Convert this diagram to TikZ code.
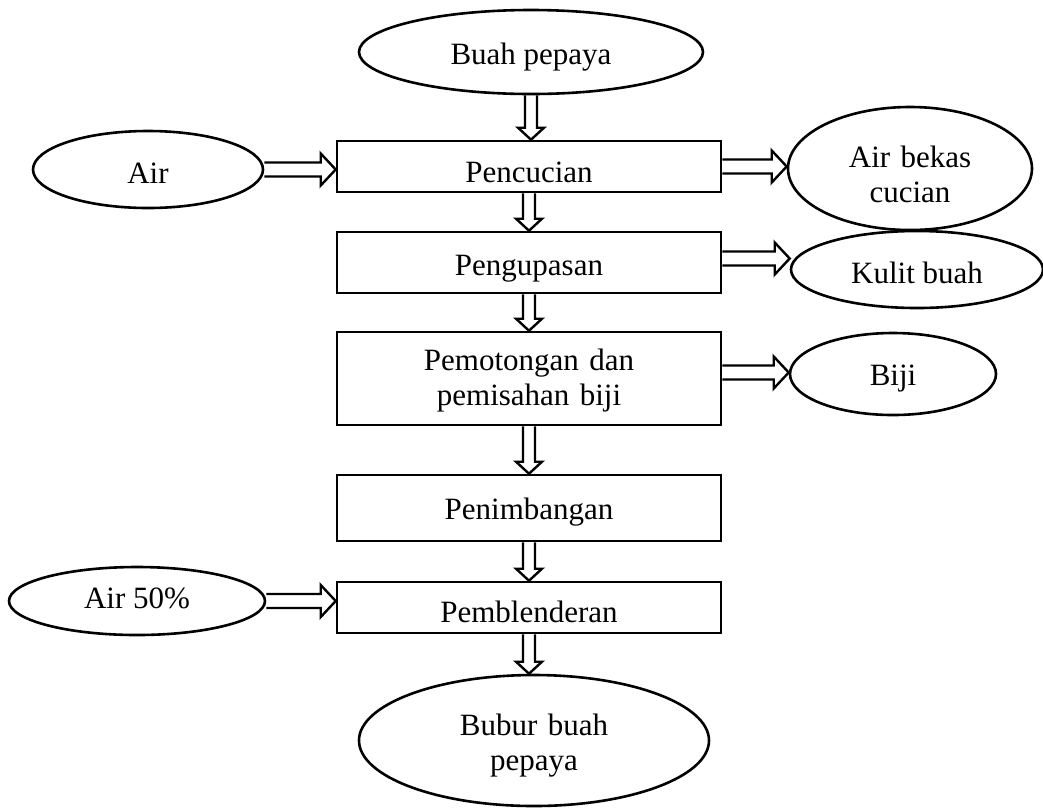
\documentclass[tikz,border=0pt]{standalone}
\usepackage{fontspec}
\setmainfont{Liberation Serif}
\usetikzlibrary{shapes.geometric,calc}
\tikzset{
  base/.style={draw=black, line width=2.6pt, font=\fontsize{31}{35}\selectfont},
  procbox/.style={base, rectangle, inner sep=0pt, text width=384pt, align=center, anchor=base},
  oval/.style={base, ellipse, inner sep=0pt, align=center},
  harr/.style={draw=black, line width=2.4pt, line join=miter, to path={let \p1=(\tikztostart), \p2=(\tikztotarget) in
     (\x1,\y1+7pt) -- (\x2-15pt,\y1+7pt) -- (\x2-15pt,\y1+16pt) -- (\x2,\y1) -- (\x2-15pt,\y1-16pt) -- (\x2-15pt,\y1-7pt) -- (\x1,\y1-7pt)}},
  varr/.style={draw=black, line width=2.4pt, line join=miter, to path={let \p1=(\tikztostart), \p2=(\tikztotarget) in
     (\x1-6pt,\y1) -- (\x1-6pt,\y2+12pt) -- (\x1-13pt,\y2+12pt) -- (\x1,\y2) -- (\x1+13pt,\y2+12pt) -- (\x1+6pt,\y2+12pt) -- (\x1+6pt,\y1)}}
}
\begin{document}
\begin{tikzpicture}[x=1pt,y=-1pt]
\useasboundingbox (0,0) rectangle (1043,807);
% process boxes
\node[procbox, text height=41pt, text depth=10pt] (cuci) at (529,182) {Pencucian};
\node[procbox, text height=43pt, text depth=18pt] (kupas) at (529,275) {Pengupasan};
\node[procbox, text height=38pt, text depth=55pt] (potong) at (529,370) {Pemotongan dan\\pemisahan biji};
\node[procbox, text height=44pt, text depth=22pt] (timbang) at (529,519) {Penimbangan};
\node[procbox, text height=40pt, text depth=11pt] (blend) at (529,622) {Pemblenderan};
% ovals
\node[oval, minimum width=344pt, minimum height=84pt, text height=24pt, text depth=0pt] (buah) at (531,52) {Buah pepaya};
\node[oval, minimum width=230pt, minimum height=77pt, text height=27pt, text depth=0pt] (air) at (148,169.5) {Air};
\node[oval, minimum width=244pt, minimum height=123pt, text width=140pt, text height=10pt, text depth=13pt] (bekas) at (910,168.5) {Air bekas\\cucian};
\node[oval, minimum width=252pt, minimum height=77pt, text height=27pt, text depth=0pt] (kulit) at (917,269.5) {Kulit buah};
\node[oval, minimum width=206pt, minimum height=82pt, text height=22pt, text depth=0pt] (biji) at (893,374) {Biji};
\node[oval, minimum width=256pt, minimum height=68pt, text height=14pt, text depth=0pt] (air50) at (137,601) {Air 50\%};
\node[oval, minimum width=350pt, minimum height=131pt, text width=160pt, text height=10pt, text depth=21pt] (bubur) at (534,740.5) {Bubur buah\\pepaya};
% vertical arrows
\draw[varr] (buah.south) to (cuci.north);
\draw[varr] (cuci.south) to (kupas.north);
\draw[varr] (kupas.south) to (potong.north);
\draw[varr] (potong.south) to (timbang.north);
\draw[varr] (timbang.south) to (blend.north);
\draw[varr] (blend.south) to (bubur.north);
% horizontal arrows
\draw[harr] (air.east) to (cuci.west);
\draw[harr] (cuci.east) to (bekas.west);
\draw[harr] ([yshift=4pt]kupas.east) to (kulit.west);
\draw[harr] ([yshift=6pt]potong.east) to (biji.west);
\draw[harr] (air50.east) to (blend.west);
\end{tikzpicture}
\end{document}
